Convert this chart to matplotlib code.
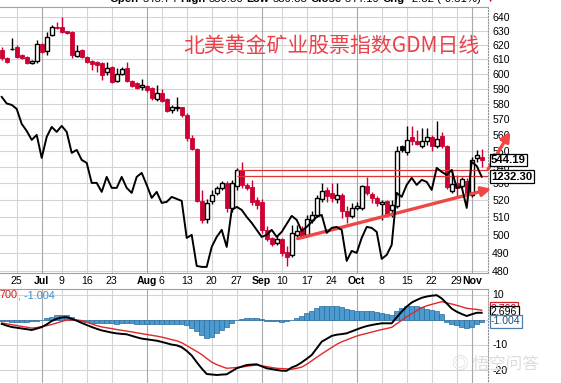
import numpy as np
import pandas as pd
import matplotlib
matplotlib.use("Agg")
import matplotlib.pyplot as plt
from matplotlib.ticker import FixedLocator, NullLocator, NullFormatter
from matplotlib.transforms import blended_transform_factory as btf

plt.rcParams['font.family'] = ['Liberation Sans', 'DejaVu Sans']

# ===========================
# Data
# ===========================
dates = pd.bdate_range('2018-06-20', '2018-11-05')
dates = dates[~dates.isin(pd.to_datetime(['2018-07-04', '2018-09-03']))]

opens = [616.3, 610.6, 616.8, 618.6, 612.9, 611.3, 607.3, 608.4, 620.5, 615.4,
         626.9, 632.8, 632.8, 629.5, 629.0, 612.3, 616.3, 611.7, 608.4, 608.0,
         607.5, 601.3, 604.7, 594.9, 599.8, 603.7, 595.2, 593.5, 590.8, 591.7,
         590.2, 583.1, 587.2, 582.9, 575.9, 577.0, 577.6, 572.6, 557.7, 551.3,
         519.7, 509.1, 519.7, 524.0, 527.0, 530.0, 515.3, 528.2, 538.1, 529.0,
         528.0, 520.0, 519.0, 503.0, 498.0, 495.5, 497.5, 490.3, 488.8, 500.0,
         502.8, 500.0, 508.5, 511.4, 520.7, 526.1, 524.0, 520.7, 523.1, 513.8,
         510.8, 515.6, 515.6, 528.5, 523.5, 521.1, 518.0, 519.7, 514.0, 516.6,
         553.0, 549.0, 558.4, 556.0, 553.0, 556.0, 558.8, 553.0, 559.2, 552.9,
         525.7, 530.0, 528.6, 531.5, 523.1, 545.5, 545.74]
highs = [618.3, 611.7, 624.7, 619.5, 613.5, 612.0, 609.2, 623.3, 621.0, 629.3,
         634.0, 636.4, 640.0, 630.0, 629.5, 619.8, 617.0, 612.2, 609.4, 608.4,
         608.3, 608.0, 605.0, 603.7, 604.7, 608.3, 595.8, 594.3, 596.2, 592.4,
         591.0, 592.4, 589.7, 583.5, 579.2, 584.6, 578.0, 574.0, 560.0, 551.8,
         526.0, 521.0, 526.0, 528.5, 531.5, 531.3, 532.0, 539.5, 543.0, 530.0,
         532.0, 522.0, 521.0, 505.0, 499.0, 499.5, 498.5, 493.5, 505.6, 505.6,
         505.0, 511.4, 513.4, 523.1, 530.0, 528.0, 530.0, 530.0, 524.0, 516.6,
         518.2, 519.0, 529.0, 534.0, 524.6, 522.3, 520.0, 520.3, 520.0, 553.0,
         553.5, 565.5, 565.5, 563.0, 564.0, 564.0, 559.8, 568.5, 562.0, 553.5,
         538.1, 535.0, 534.0, 533.0, 546.3, 550.4, 550.80]
lows = [609.4, 607.5, 616.0, 611.0, 610.0, 606.8, 606.8, 607.0, 614.0, 612.9,
        626.0, 631.0, 628.5, 627.5, 611.0, 611.7, 611.0, 607.5, 602.5, 601.4,
        595.8, 599.2, 593.6, 594.3, 599.2, 594.7, 591.0, 589.5, 589.0, 587.8,
        582.4, 582.0, 580.9, 574.8, 574.0, 575.5, 571.0, 556.0, 550.4, 519.0,
        506.5, 506.5, 518.0, 523.0, 526.0, 513.0, 513.0, 526.0, 527.0, 526.0,
        517.0, 515.0, 501.0, 496.5, 494.0, 494.5, 488.0, 482.5, 487.9, 499.0,
        498.3, 499.0, 506.8, 510.5, 519.0, 519.0, 519.0, 518.2, 509.6, 506.8,
        509.6, 514.3, 514.3, 523.1, 518.2, 516.6, 508.5, 510.0, 510.0, 515.6,
        549.3, 547.3, 553.5, 553.5, 551.8, 553.5, 550.0, 551.8, 551.8, 526.5,
        524.4, 522.0, 527.0, 519.0, 522.0, 543.0, 539.88]
closes = [610.6, 608.3, 617.2, 611.7, 610.6, 607.3, 608.4, 620.3, 614.6, 625.2,
          632.8, 631.6, 628.8, 628.3, 612.9, 615.7, 611.7, 608.2, 606.8, 606.0,
          599.2, 604.1, 594.7, 599.8, 603.2, 595.2, 591.7, 590.2, 592.4, 589.1,
          583.5, 586.8, 581.8, 575.5, 577.6, 577.8, 572.6, 557.7, 550.8, 519.7,
          508.7, 518.3, 523.1, 527.0, 530.0, 515.6, 530.4, 537.8, 529.0, 527.1,
          519.0, 517.2, 502.8, 497.9, 495.1, 497.9, 489.6, 487.9, 500.8, 502.0,
          499.0, 509.3, 511.4, 521.1, 525.5, 522.3, 521.1, 523.1, 513.8, 510.8,
          515.6, 516.6, 528.5, 524.0, 521.1, 518.2, 519.2, 511.4, 517.0, 549.9,
          550.2, 556.7, 555.9, 554.2, 556.0, 558.4, 553.0, 557.0, 553.0, 528.0,
          529.6, 527.0, 532.6, 524.5, 544.2, 547.01, 544.19]

# gold overlay ($GOLD)
gold = [1272.2, 1268.9, 1268.2, 1266.2, 1258.7, 1255.2, 1250.7, 1253.2, 1241.7, 1252.2,
        1257.2, 1254.7, 1257.7, 1254.7, 1244.2, 1245.7, 1240.7, 1239.2, 1229.2, 1229.2,
        1224.7, 1232.2, 1226.7, 1226.7, 1232.2, 1226.7, 1224.2, 1232.2, 1234.2, 1228.2,
        1221.7, 1224.7, 1219.2, 1219.7, 1222.2, 1221.2, 1220.2, 1201.7, 1203.2, 1187.7,
        1187.2, 1187.2, 1197.2, 1202.2, 1205.7, 1197.2, 1215.7, 1217.2, 1215.7, 1212.2,
        1209.2, 1205.7, 1202.2, 1203.2, 1205.7, 1202.2, 1204.7, 1208.7, 1212.7, 1210.7,
        1205.2, 1207.2, 1209.7, 1212.2, 1213.2, 1204.2, 1206.7, 1207.2, 1205.7, 1190.2,
        1195.2, 1194.2, 1201.7, 1207.2, 1206.7, 1204.7, 1191.2, 1193.2, 1198.2, 1224.2,
        1222.2, 1228.2, 1231.7, 1228.2, 1230.7, 1229.7, 1225.7, 1236.7, 1234.7, 1233.2,
        1235.7, 1226.7, 1227.2, 1216.7, 1239.7, 1237.7, 1232.3]

# MACD(12,26,9)
macd = [-1.76, -2.44, -3.0, -3.28, -3.6, -3.88, -4.2, -3.64, -3.04, -1.96,
        -0.6, 0.28, 0.8, 0.92, 0.28, -0.48, -1.36, -2.2, -3.0, -3.72,
        -4.36, -4.8, -5.24, -5.56, -5.76, -5.92, -6.52, -7.12, -7.64, -7.92,
        -8.2, -8.48, -8.96, -9.48, -10.04, -10.32, -11.08, -12.56, -14.4, -17.08,
        -19.6, -21.8, -22.0, -22.2, -22.04, -21.92, -20.72, -19.52, -18.84, -18.2,
        -18.04, -17.92, -18.72, -19.52, -19.84, -20.2, -20.48, -20.52, -19.2, -18.4,
        -17.16, -15.72, -14.2, -11.56, -8.88, -7.72, -6.56, -6.08, -5.84, -5.52,
        -4.76, -4.0, -3.24, -2.64, -2.2, -1.84, -1.52, -1.52, -1.52, 0.88,
        3.16, 5.16, 6.8, 7.8, 8.68, 9.2, 9.52, 9.72, 8.44, 6.44,
        4.36, 3.12, 2.2, 1.4, 2.08, 2.68, 2.696]
signal = [-1.4, -1.72, -2.08, -2.4, -2.76, -3.08, -3.44, -3.24, -2.84, -2.48,
          -2.0, -1.4, -0.8, -0.2, -0.2, -0.2, -0.44, -1.08, -1.76, -2.44,
          -2.96, -3.32, -3.64, -4.0, -4.32, -4.64, -4.96, -5.32, -5.64, -6.0,
          -6.32, -6.64, -7.04, -7.52, -8.04, -8.52, -9.28, -10.44, -11.6, -12.76,
          -14.04, -15.56, -17.04, -18.04, -18.8, -19.52, -19.36, -19.2, -19.0, -18.72,
          -18.44, -18.2, -18.52, -18.84, -19.2, -19.52, -19.64, -19.76, -19.88, -19.52,
          -19.04, -17.92, -16.52, -15.12, -13.76, -12.48, -11.2, -9.92, -8.92, -8.16,
          -7.36, -6.64, -6.04, -5.56, -5.04, -4.52, -4.04, -3.6, -3.12, -1.72,
          -0.32, 1.12, 2.32, 3.52, 4.72, 5.48, 6.04, 6.6, 7.12, 6.64,
          6.2, 5.68, 5.08, 4.48, 4.24, 4.04, 3.70]
hist = [-0.4, -0.7, -0.9, -0.9, -0.8, -0.8, -0.7, -0.4, -0.2, 0.5,
        1.0, 1.7, 2.0, 1.8, 0.9, -0.2, -0.6, -1.0, -1.2, -1.3,
        -1.4, -1.5, -1.5, -1.6, -1.5, -1.4, -1.5, -1.6, -1.7, -1.7,
        -1.7, -1.7, -1.8, -1.9, -1.9, -1.8, -1.8, -2.2, -3.2, -4.5,
        -6.0, -7.2, -6.8, -5.2, -4.0, -2.8, -1.4, -0.3, 0.3, 0.6,
        0.8, 0.8, 0.4, -0.4, -0.6, -0.7, -0.8, -0.5, -0.1, 0.8,
        1.6, 2.5, 3.6, 4.6, 5.4, 5.6, 5.6, 5.5, 5.0, 4.3,
        3.7, 3.3, 3.3, 3.5, 3.4, 3.1, 2.7, 2.2, 1.8, 3.6,
        4.8, 5.5, 5.6, 5.4, 5.0, 4.4, 3.9, 3.3, 2.2, -0.8,
        -1.6, -2.3, -2.8, -3.5, -3.0, -1.6, -1.004]

label_dates = ['2018-06-25', '2018-07-02', '2018-07-09', '2018-07-16', '2018-07-23',
               '2018-08-01', '2018-08-06', '2018-08-13', '2018-08-20', '2018-08-27',
               '2018-09-04', '2018-09-10', '2018-09-17', '2018-09-24', '2018-10-01',
               '2018-10-08', '2018-10-15', '2018-10-22', '2018-10-29', '2018-11-01']
label_text = ['25', 'Jul', '9', '16', '23', 'Aug', '6', '13', '20', '27',
              'Sep', '10', '17', '24', 'Oct', '8', '15', '22', '29', 'Nov']
months = ['Jul', 'Aug', 'Sep', 'Oct', 'Nov']

price_ticks = list(range(480, 641, 10))
macd_ticks = [10, -10, -20]
resist_levels = [538.1, 534.4]

# ===========================
# Figure
# ===========================
W, H = 561, 383
fig = plt.figure(figsize=(W / 100, H / 100), dpi=100)


def box(x0, y0, x1, y1):
    return [x0 / W, 1 - y1 / H, (x1 - x0) / W, (y1 - y0) / H]


RED = '#cc0033'
GRID = '#d4d4d4'
x = np.arange(len(dates))
xpos = [dates.get_loc(pd.Timestamp(d)) for d in label_dates]
xlim = (-0.34, 97.26)

ax = fig.add_axes(box(0, 7, 488, 273))
mx = fig.add_axes(box(0, 289, 488, 395))

# gold overlay on its own scale (made first, twinx moves ticks to the left)
gax = ax.twinx()
gax.set_ylim(1184.15, 1317.15)
gax.axis('off')
gax.plot(x, gold, color='black', lw=1.4, zorder=5)

# ---------- main price panel ----------
ax.set_yscale('log')
ax.set_ylim(478.9, 647.0)
ax.set_xlim(*xlim)
for p in price_ticks:
    ax.axhline(p, color=GRID, lw=0.8, zorder=0)
for p, t in zip(xpos, label_text):
    ax.axvline(p, color='#a8a8a8' if t in months else GRID, lw=0.8, zorder=0)

for i in range(len(x)):
    o, h, l, c = opens[i], highs[i], lows[i], closes[i]
    prev = closes[i - 1] if i > 0 else o + 1
    col = RED if c < prev else 'black'
    ax.vlines(i, l, h, color=col, lw=1.0, zorder=2)
    if c < o:
        ax.bar(i, o - c, bottom=c, width=0.74, color=col, edgecolor=col, lw=0.6, zorder=3)
    else:
        ax.bar(i, max(c - o, 0.3), bottom=o, width=0.74, facecolor='white',
               edgecolor=col, lw=1.0, zorder=3)

for lvl in resist_levels:
    ax.hlines(lvl, 47.06, xlim[1], color='#e03434', lw=0.9, zorder=4)

ax.yaxis.tick_right()
ax.yaxis.set_label_position('right')
ax.yaxis.set_major_locator(FixedLocator(price_ticks))
ax.yaxis.set_minor_locator(NullLocator())
ax.yaxis.set_minor_formatter(NullFormatter())
ax.set_yticklabels([str(p) for p in price_ticks])
ax.tick_params(axis='y', which='both', left=False, labelleft=False, right=False,
               labelright=True, length=0, pad=3, labelsize=7.6)
ax.set_xticks(xpos)
ax.set_xticklabels(label_text)
ax.tick_params(axis='x', length=0, pad=2.5, labelsize=7.6)
for lab in ax.get_xticklabels():
    if lab.get_text() in months:
        lab.set_fontweight('bold')
ax.spines['left'].set_visible(False)
ax.spines['top'].set_color('#a0a0a0')
ax.spines['bottom'].set_color('#a0a0a0')
ax.spines['right'].set_color('#909090')
ax.spines['right'].set_linestyle(':')

# hand drawn arrows
gax.annotate('', xy=(98.46, 527.2), xytext=(58.66, 497.5),
             xycoords=ax.transData, textcoords=ax.transData, annotation_clip=False,
             arrowprops=dict(arrowstyle='-|>', color='#f04646', lw=2.4, mutation_scale=14))
gax.annotate('', xy=(102.0, 563.5), xytext=(97.0, 537.1),
             xycoords=ax.transData, textcoords=ax.transData, annotation_clip=False,
             arrowprops=dict(arrowstyle='-|>', color='#f04646', lw=2.4, mutation_scale=14))

# value boxes
gax.text(1.006, closes[-1], '%.2f' % closes[-1], transform=btf(ax.transAxes, ax.transData),
         fontsize=8.2, fontweight='bold', va='center', ha='left', zorder=6,
         bbox=dict(boxstyle='square,pad=0.12', fc='white', ec='black', lw=0.9))
gax.text(1.006, gold[-1], '%.2f' % gold[-1], transform=btf(gax.transAxes, gax.transData),
         fontsize=8.2, fontweight='bold', va='center', ha='left', zorder=6,
         bbox=dict(boxstyle='square,pad=0.12', fc='white', ec='black', lw=0.9))

# ---------- MACD panel ----------
mx.set_xlim(*xlim)
mx.set_ylim(-30.2, 12.2)
for v in [10, 0, -10, -20]:
    mx.axhline(v, color=GRID, lw=0.8, zorder=0)
for p, t in zip(xpos, label_text):
    mx.axvline(p, color='#a8a8a8' if t in months else GRID, lw=0.8, zorder=0)
mx.bar(x, hist, width=1.0, color='#4b9bd1', edgecolor='#2a6c9c', lw=0.5, zorder=2)
mx.plot(x, signal, color='#e02828', lw=1.0, zorder=3)
mx.plot(x, macd, color='black', lw=1.4, zorder=4)
mx.yaxis.tick_right()
mx.set_yticks(macd_ticks)
mx.set_yticklabels([str(v) for v in macd_ticks])
mx.tick_params(axis='y', length=0, pad=3, labelsize=7.6)
mx.set_xticks([])
mx.spines['left'].set_visible(False)
mx.spines['bottom'].set_visible(False)
mx.spines['top'].set_color('#a0a0a0')
mx.spines['right'].set_color('#909090')
mx.spines['right'].set_linestyle(':')

tr = btf(mx.transAxes, mx.transData)
mx.text(1.006, 4.4, '%.3f' % signal[-1], transform=tr, fontsize=7.6, va='center', ha='left',
        color=RED, bbox=dict(boxstyle='square,pad=0.12', fc='white', ec='#d02020', lw=0.9))
mx.text(1.006, 2.9, '%.3f' % macd[-1], transform=tr, fontsize=7.6, va='center', ha='left',
        color='black', bbox=dict(boxstyle='square,pad=0.12', fc='white', ec='black', lw=0.9))
mx.text(1.006, -0.7, '%.3f' % hist[-1], transform=tr, fontsize=7.6, va='center', ha='left',
        color='#1d4f7a', bbox=dict(boxstyle='square,pad=0.12', fc='white', ec='#4b7fae', lw=0.9))


# ---------- texts ----------
def rich_text(x_px, y_px, parts, size):
    r = fig.canvas.get_renderer()
    gap = 0.278 * size * 100 / 72
    for s, kw in parts:
        t = fig.text(x_px / W, 1 - y_px / H, s.strip(), fontsize=size, va='center', ha='left', **kw)
        x_px += t.get_window_extent(r).width + (gap if s.endswith(' ') else 0)


B = dict(fontweight='bold')
N = dict()
rich_text(110, -1.5, [('Open ', B), ('%.2f ' % opens[-1], N), ('High ', B), ('%.2f ' % highs[-1], N),
                      ('Low ', B), ('%.2f ' % lows[-1], N), ('Close ', B), ('%.2f ' % closes[-1], N),
                      ('Chg ', B), ('-2.82 (-0.51%) ', N), ('\u25bc', dict(color=RED))], 8.2)
rich_text(0, 295, [('700', dict(color='#cc2020')), (', -1.004', dict(color='#3d8ec9'))], 7.8)

fig.text(183 / W, 1 - 46 / H, '北美黄金矿业股票指数GDM日线', fontsize=15, color='#e8434b',
         family='Noto Sans CJK SC', va='center', ha='left')
fig.text(452 / W, 1 - 364 / H, '\u25ce 悟空问答', fontsize=12, color='#dcdcdc',
         family=['Noto Sans CJK SC', 'DejaVu Sans'], va='center', ha='left')

fig.savefig('out.png', dpi=100)
